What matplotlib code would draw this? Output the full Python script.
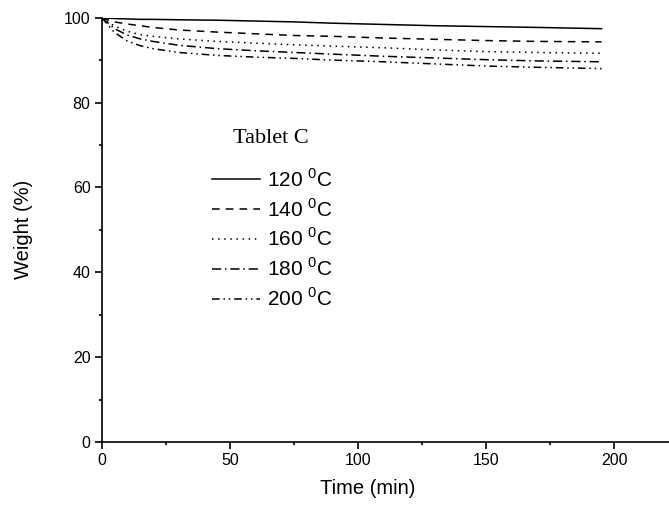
import matplotlib

matplotlib.use('Agg')
import matplotlib.pyplot as plt
from matplotlib.ticker import MultipleLocator

plt.rcParams['font.family'] = ['Liberation Sans', 'DejaVu Sans']
plt.rcParams['mathtext.fontset'] = 'custom'
plt.rcParams['mathtext.rm'] = 'Liberation Sans'

# time (min) and weight (%)
time = [0, 2, 5, 10, 15, 20, 30, 45, 60, 75, 90, 110, 130, 150, 170, 195]
w120 = [100, 99.9, 99.8, 99.7, 99.6, 99.6, 99.5, 99.4, 99.2, 99.0, 98.7, 98.4, 98.1, 97.9, 97.7, 97.4]
w140 = [100, 99.6, 99.0, 98.5, 98.1, 97.7, 97.1, 96.6, 96.2, 95.8, 95.6, 95.2, 94.9, 94.6, 94.4, 94.3]
w160 = [100, 99.2, 98.0, 96.8, 96.0, 95.6, 95.0, 94.4, 94.0, 93.6, 93.3, 92.9, 92.4, 92.0, 91.8, 91.6]
w180 = [100, 99.0, 97.4, 95.9, 95.0, 94.4, 93.5, 92.7, 92.2, 91.8, 91.4, 90.9, 90.5, 90.1, 89.8, 89.6]
w200 = [100, 98.6, 96.5, 94.5, 93.4, 92.7, 91.8, 91.1, 90.7, 90.4, 90.0, 89.6, 89.1, 88.6, 88.3, 88.0]

series = [w120, w140, w160, w180, w200]
labels = ['120', '140', '160', '180', '200']
styles = ['-', (0, (5, 4)), (0, (1, 3)), (0, (6, 2.5, 1, 2.5)), (0, (5, 2.5, 1, 2.5, 1, 2.5))]

fig = plt.figure(figsize=(6.69, 5.09), dpi=100)
ax = fig.add_axes([0.152, 0.1316, 0.848, 0.8337])

for w, lab, ls in zip(series, labels, styles):
    ax.plot(time, w, color='black', lw=1.1, linestyle=ls,
            label=lab + r' $^{\mathregular{0}}$C')

ax.set_xlim(0, 221.3)
ax.set_ylim(0, 100)
ax.xaxis.set_major_locator(MultipleLocator(50))
ax.xaxis.set_minor_locator(MultipleLocator(25))
ax.yaxis.set_major_locator(MultipleLocator(20))
ax.yaxis.set_minor_locator(MultipleLocator(10))
ax.spines['top'].set_visible(False)
ax.spines['right'].set_visible(False)
for s in ['left', 'bottom']:
    ax.spines[s].set_linewidth(1.2)
ax.tick_params(which='major', direction='out', length=5, width=1.2, labelsize=11.5, pad=3)
ax.tick_params(which='minor', direction='out', length=2.5, width=1.2)

ax.set_xlabel('Time (min)', fontsize=14.5)
ax.set_ylabel('Weight (%)', fontsize=14.5)
ax.xaxis.set_label_coords(0.469, -0.088)
ax.yaxis.set_label_coords(-0.121, 0.5)

ax.text(0.298, 0.715, 'Tablet C', transform=ax.transAxes, ha='center', va='center',
        fontsize=16, family=['Liberation Serif'])
ax.legend(loc='upper left', bbox_to_anchor=(0.1944, 0.646), frameon=False,
          fontsize=15, handlelength=2.3, handletextpad=0.33, labelspacing=0.35,
          borderpad=0, borderaxespad=0)

fig.savefig('out.png', dpi=100)
